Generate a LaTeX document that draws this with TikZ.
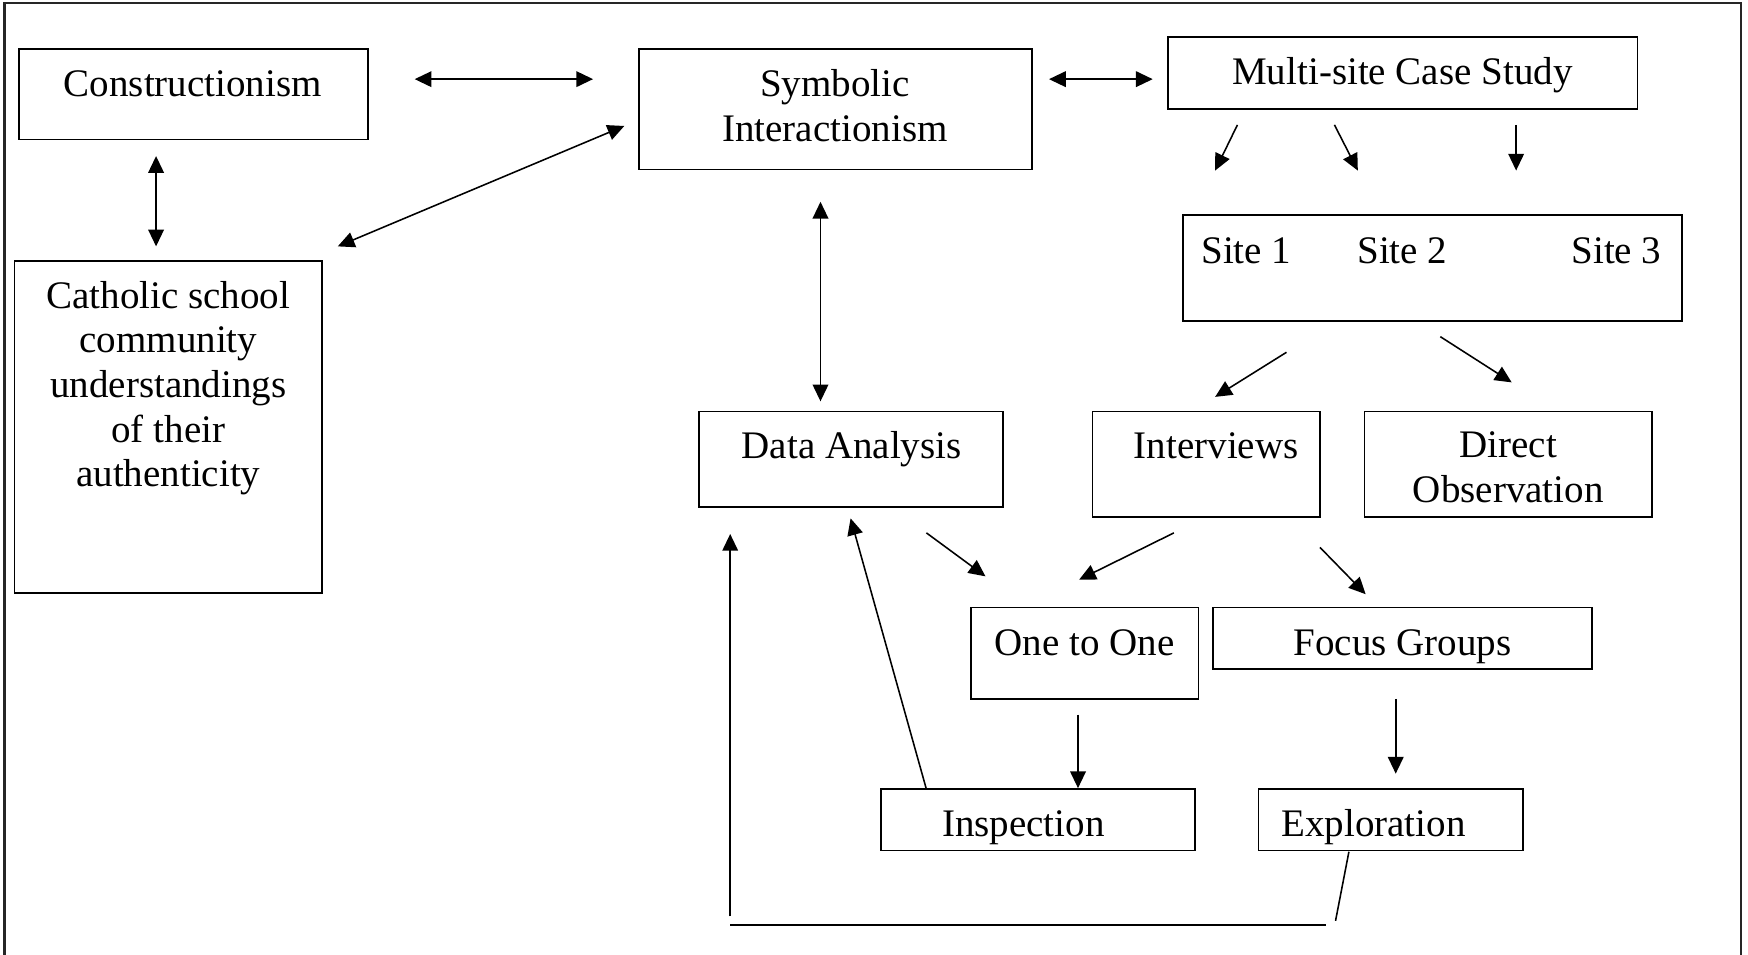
\documentclass[tikz,border=0pt]{standalone}
\usepackage{fontspec}
\setmainfont{Liberation Serif}
\usetikzlibrary{arrows.meta}
\begin{document}
\begin{tikzpicture}[x=1pt,y=-1pt,
  box/.style={draw, line width=1.5pt, inner sep=0pt},
  txt/.style={font=\fontsize{35}{40}\selectfont, inner sep=0pt, align=center},
  tip/.tip={Triangle[length=15pt,width=14pt]},
  arr/.style={line width=1.4pt, -tip},
  darr/.style={line width=1.4pt, tip-tip},
  ln/.style={line width=1.4pt}]
\useasboundingbox (0,0) rectangle (1568,856);
\draw[line width=2pt, black!85] (4,870) -- (4,3) -- (1562,3) -- (1562,870);

% boxes
\node[box, minimum width=313pt, minimum height=81pt]  (con)  at (173.5,84.5) {};
\node[box, minimum width=353pt, minimum height=108pt] (sym)  at (749.5,98) {};
\node[box, minimum width=421pt, minimum height=65pt]  (msc)  at (1258.5,65.5) {};
\node[box, minimum width=448pt, minimum height=95pt]  (site) at (1285,240.5) {};
\node[box, minimum width=276pt, minimum height=298pt] (cath) at (151,383) {};
\node[box, minimum width=273pt, minimum height=86pt]  (da)   at (763.5,412) {};
\node[box, minimum width=204pt, minimum height=95pt]  (int)  at (1082,416.5) {};
\node[box, minimum width=258pt, minimum height=95pt]  (dobs) at (1353,416.5) {};
\node[box, minimum width=204pt, minimum height=82pt]  (oto)  at (973,586) {};
\node[box, minimum width=340pt, minimum height=55pt]  (fg)   at (1258,572.5) {};
\node[box, minimum width=282pt, minimum height=55pt]  (insp) at (931,735.5) {};
\node[box, minimum width=237pt, minimum height=55pt]  (expl) at (1247.5,735.5) {};

% texts
\node[txt, anchor=base] (con-t)  at (173,87) {Constructionism};
\node[txt, anchor=north] (sym-t) at (749,62) {Symbolic\\Interactionism};
\node[txt, anchor=base] (msc-t)  at (1258,76) {Multi-site Case Study};
\node[txt, anchor=base] (s1-t)   at (1118,236) {Site 1};
\node[txt, anchor=base] (s2-t)   at (1258,236) {Site 2};
\node[txt, anchor=base] (s3-t)   at (1450,236) {Site 3};
\node[txt, anchor=north] (cath-t) at (151,252) {Catholic school\\community\\understandings\\of their\\authenticity};
\node[txt, anchor=base] (da-t)   at (764,411) {Data Analysis};
\node[txt, anchor=base] (int-t)  at (1091,411) {Interviews};
\node[txt, anchor=north] (dobs-t) at (1353,387) {Direct\\Observation};
\node[txt, anchor=base] (oto-t)  at (973,588) {One to One};
\node[txt, anchor=base] (fg-t)   at (1258,588) {Focus Groups};
\node[txt, anchor=base] (insp-t) at (918,750) {Inspection};
\node[txt, anchor=base] (expl-t) at (1232,750) {Exploration};

% connector end points
\coordinate (a1) at (372,71);   \coordinate (b1) at (532,71);
\coordinate (a2) at (941,71);   \coordinate (b2) at (1034,71);
\coordinate (a3) at (140,140);  \coordinate (b3) at (140,221);
\coordinate (a4) at (303,221);  \coordinate (b4) at (560,113);
\coordinate (a5) at (736,181);  \coordinate (b5) at (736,360);
\coordinate (a6) at (1110,112); \coordinate (b6) at (1090,153);
\coordinate (a7) at (1197,112); \coordinate (b7) at (1218,153);
\coordinate (a8) at (1360,112); \coordinate (b8) at (1360,153);
\coordinate (a9) at (1154,316); \coordinate (b9) at (1090,356);
\coordinate (a10) at (1292,302); \coordinate (b10) at (1356,343);
\coordinate (a11) at (831,478); \coordinate (b11) at (884,517);
\coordinate (a12) at (1053,478); \coordinate (b12) at (968,520);
\coordinate (a13) at (1184,491); \coordinate (b13) at (1225,533);
\coordinate (a14) at (967,641); \coordinate (b14) at (967,707);
\coordinate (a15) at (1252,627); \coordinate (b15) at (1252,694);
\coordinate (a16) at (831,708); \coordinate (b16) at (763,465);
\coordinate (a17) at (1210,764); \coordinate (b17) at (1198,826);
\coordinate (a18) at (1189,830); \coordinate (b18) at (655,830);
\coordinate (a19) at (655,822); \coordinate (b19) at (655,479);

\draw[darr] (a1) -- (b1);
\draw[darr] (a2) -- (b2);
\draw[darr] (a3) -- (b3);
\draw[darr] (a4) -- (b4);
\draw[darr] (a5) -- (b5);
\draw[arr] (a6) -- (b6);
\draw[arr] (a7) -- (b7);
\draw[arr] (a8) -- (b8);
\draw[arr] (a9) -- (b9);
\draw[arr] (a10) -- (b10);
\draw[arr] (a11) -- (b11);
\draw[arr] (a12) -- (b12);
\draw[arr] (a13) -- (b13);
\draw[arr] (a14) -- (b14);
\draw[arr] (a15) -- (b15);
\draw[arr] (a16) -- (b16);
\draw[ln] (a17) -- (b17);
\draw[line width=2pt] (a18) -- (b18);
\draw[arr] (a19) -- (b19);
\end{tikzpicture}
\end{document}
